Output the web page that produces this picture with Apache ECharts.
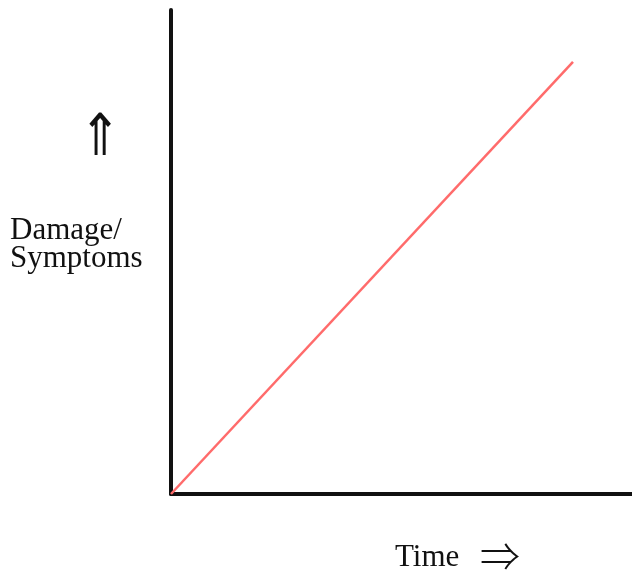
<!DOCTYPE html>
<html>
<head>
<meta charset="utf-8">
<style>html,body{margin:0;padding:0;background:#fff;}#c{width:632px;height:570px;}</style>
<script src="https://cdn.jsdelivr.net/npm/echarts@6/dist/echarts.min.js"></script>
</head>
<body>
<div id="c"></div>
<script>
const timeValues = [0, 87.2];
const damageValues = [0, 89.3];
const yLabel = "Damage/\nSymptoms";
const yArrow = "\u21D1";
const xLabel = "Time";
const xArrow = "\u21D2";

const chart = echarts.init(document.getElementById('c'));
chart.setOption({
  animation: false,
  backgroundColor: '#fff',
  grid: { left: 171, right: 0, top: 10, bottom: 76 },
  xAxis: {
    type: 'value', min: 0, max: 100,
    axisLine: { show: true, onZero: false, lineStyle: { color: '#111', width: 4 } },
    axisTick: { show: false }, axisLabel: { show: false }, splitLine: { show: false }
  },
  yAxis: {
    type: 'value', min: 0, max: 100,
    axisLine: { show: true, onZero: false, lineStyle: { color: '#111', width: 4 } },
    axisTick: { show: false }, axisLabel: { show: false }, splitLine: { show: false }
  },
  series: [{
    type: 'line',
    data: timeValues.map((t, i) => [t, damageValues[i]]),
    showSymbol: false,
    lineStyle: { color: '#ff6b6b', width: 2.5 },
    z: 1
  }],
  graphic: [
    { type: 'text', left: 79, top: 104, scaleY: 1.15, style: { text: yArrow, font: '300 50px "Noto Sans CJK SC", "Noto Sans"', fill: '#111' } },
    { type: 'text', left: 10, top: 215, style: { text: yLabel, font: '31px "Liberation Serif"', lineHeight: 28, fill: '#111' } },
    { type: 'text', left: 395, top: 542, style: { text: xLabel, font: '31px "Liberation Serif"', fill: '#111' } },
    { type: 'text', left: 480, top: 536, style: { text: xArrow, font: '300 40px "Noto Sans CJK JP"', fill: '#111' } }
  ]
});
</script>
</body>
</html>
